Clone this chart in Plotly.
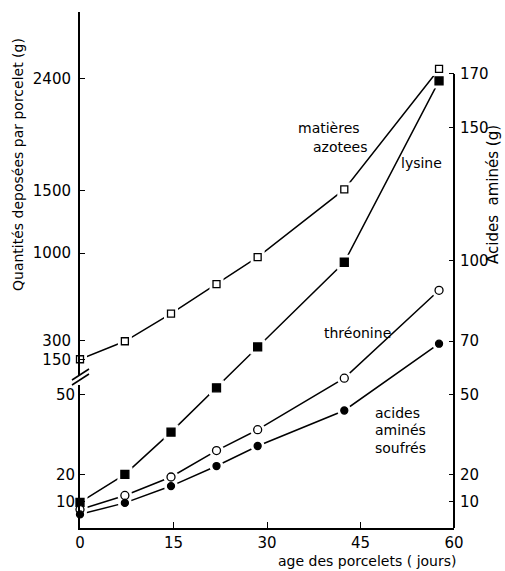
import plotly.graph_objects as go

# ---- data ----
ages = [0, 7.2, 14.6, 21.9, 28.5, 42.4, 57.6]          # age des porcelets (jours)
matieres_azotees = [150, 294, 516, 752, 968, 1511, 2476]  # g / porcelet (left, upper scale)
lysine = [9.6, 20.1, 35.9, 52.5, 67.8, 99.5, 167.4]       # acides aminés (g)
threonine = [6.9, 12.2, 19.1, 29.0, 36.8, 56.1, 89.0]
soufres = [5.1, 9.4, 15.7, 23.2, 30.7, 44.0, 69.0]

x_ticks = [0, 15, 30, 45, 60]
left_upper_ticks = [150, 300, 1000, 1500, 2400]
left_lower_ticks = [10, 20, 50]
right_ticks = [10, 20, 50, 70, 100, 150, 170]

W, H = 505, 571
L, R, T, B = 80, 51, 12, 43
AA_RANGE = [0, 193.2]
G_RANGE = [-1202, 2932]
FONT = "DejaVu Sans"

def xp(px):
    return (px - L) / (W - L - R)

def yp(py):
    return (H - B - py) / (H - T - B)

fig = go.Figure()

series = [
    (matieres_azotees, "y2", "square", 7, "white"),
    (lysine, "y", "square", 8, "black"),
    (threonine, "y", "circle", 8, "white"),
    (soufres, "y", "circle", 7, "black"),
]

# lines
for vals, ax, sym, sz, col in series:
    fig.add_trace(go.Scatter(x=ages, y=vals, yaxis=ax, mode="lines",
                             line=dict(color="black", width=1.5),
                             hoverinfo="skip", showlegend=False))
# white halos (gap between line and marker)
for vals, ax, sym, sz, col in series:
    fig.add_trace(go.Scatter(x=ages, y=vals, yaxis=ax, mode="markers",
                             marker=dict(symbol=sym, size=sz + 7, color="white",
                                         line=dict(width=0)),
                             hoverinfo="skip", showlegend=False, cliponaxis=False))
# markers
for vals, ax, sym, sz, col in series:
    fig.add_trace(go.Scatter(x=ages, y=vals, yaxis=ax, mode="markers",
                             marker=dict(symbol=sym, size=sz, color=col,
                                         line=dict(color="black", width=1.3)),
                             showlegend=False, cliponaxis=False))

# dummy trace to activate yaxis3
fig.add_trace(go.Scatter(x=[None], y=[None], yaxis="y3", showlegend=False))

tickfont = dict(family=FONT, size=15, color="black")
common = dict(ticks="inside", ticklen=5, tickcolor="black", tickwidth=1.3,
              showgrid=False, zeroline=False, tickfont=tickfont, automargin=False)

fig.update_layout(
    width=W, height=H,
    margin=dict(l=L, r=R, t=T, b=B, autoexpand=False),
    paper_bgcolor="white", plot_bgcolor="white",
    showlegend=False,
    xaxis=dict(range=[0, 60], tickvals=x_ticks, ticklen=6,
               showline=True, linecolor="black", linewidth=2,
               **{k: v for k, v in common.items() if k != "ticklen"}),
    yaxis=dict(range=AA_RANGE, side="right", anchor="x",
               tickvals=right_ticks, ticklabelstandoff=5,
               showline=False, **common),
    yaxis2=dict(range=G_RANGE, side="left", anchor="x", overlaying="y",
                tickvals=left_upper_ticks, ticklabelstandoff=4,
                showline=True, linecolor="black", linewidth=2, **common),
    yaxis3=dict(range=AA_RANGE, side="left", anchor="x", overlaying="y",
                tickvals=left_lower_ticks, ticklabelstandoff=4,
                showline=False, **common),
)

shapes = [
    # right axis line (only up to 170)
    dict(type="line", xref="paper", yref="y", x0=1, x1=1, y0=0, y1=170,
         line=dict(color="black", width=2)),
    # break on left axis
    dict(type="rect", xref="paper", yref="paper", x0=xp(77), x1=xp(83),
         y0=yp(385), y1=yp(375), fillcolor="white", line=dict(width=0)),
    dict(type="line", xref="paper", yref="paper", x0=xp(72), y0=yp(385),
         x1=xp(89), y1=yp(374), line=dict(color="black", width=1.5)),
    dict(type="line", xref="paper", yref="paper", x0=xp(72), y0=yp(380),
         x1=xp(89), y1=yp(369), line=dict(color="black", width=1.5)),
]
fig.update_layout(shapes=shapes)

ann = []
def add(text, px, py, xanchor="center", angle=0, size=14):
    ann.append(dict(text=text, xref="paper", yref="paper", x=xp(px), y=yp(py),
                    xanchor=xanchor, yanchor="middle", showarrow=False,
                    textangle=angle, font=dict(family=FONT, size=size, color="black")))

add("matières", 362, 128, "right")
add("azotees", 370, 147, "right")
add("lysine", 421, 163)
add("thréonine", 357, 333)
add("acides", 373, 413, "left")
add("aminés", 373, 430, "left")
add("soufrés", 373, 448, "left")
add("Quantités deposées par porcelet (g)", 18, 165, angle=-90, size=14)
add("Acides  aminés (g)", 493, 195, angle=-90, size=15)
add("age des porcelets ( jours)", 458, 561, "right", size=14)
fig.update_layout(annotations=ann)

fig.write_html("out.html",
               config={"displayModeBar": False},
               post_script="document.body.style.margin='0';document.body.style.overflow='hidden';")
